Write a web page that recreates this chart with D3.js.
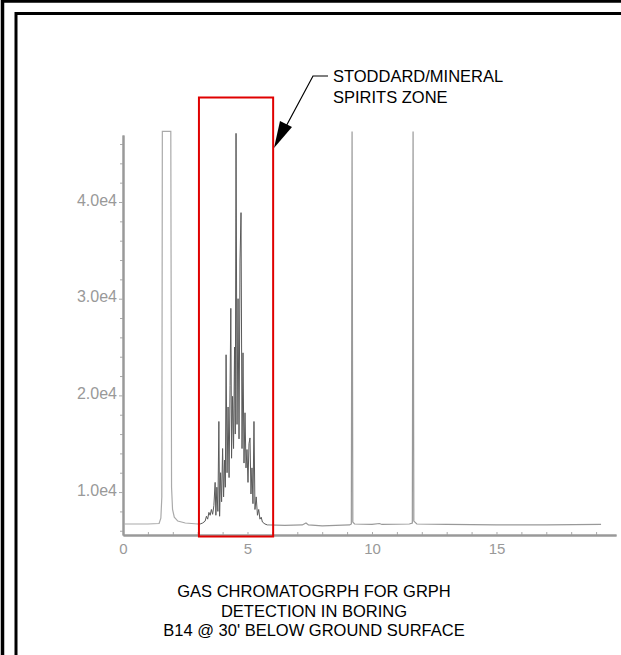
<!DOCTYPE html>
<html>
<script src="https://d3js.org/d3.v7.min.js"></script>
<style>
body {margin:0; background:#fff;}
text {font-family: "Liberation Sans", Arial, sans-serif;}
</style>
<body>
<svg width=621 height=655></svg>
<script>
// retention time (min), detector signal
const earlyTrace = [
    [0.05, 6700], [1.0, 6700], [1.45, 6750], [1.52, 7300], [1.56, 9500],
    [1.58, 47300], [1.92, 47300], [1.95, 10500], [1.99, 8200], [2.06, 7400],
    [2.2, 7000], [2.5, 6800], [3.0, 6700]
];
const stoddardCluster = [
    [3.0, 6700], [3.1, 6700], [3.2, 6800], [3.3, 7000], [3.35, 7500], [3.4, 7200],
    [3.45, 7900], [3.5, 7600], [3.55, 8200], [3.6, 7700], [3.65, 8600], [3.7, 11000],
    [3.73, 7600], [3.77, 10500], [3.81, 8000], [3.85, 17300], [3.88, 7500], [3.92, 12000],
    [3.96, 9000], [4.0, 14500], [4.04, 9500], [4.08, 13300], [4.11, 10500], [4.14, 24200],
    [4.18, 12000], [4.22, 18800], [4.26, 11500], [4.3, 21000], [4.33, 29000], [4.36, 13500],
    [4.4, 19900], [4.44, 14500], [4.48, 25000], [4.51, 16000], [4.54, 47100], [4.58, 17000],
    [4.62, 30000], [4.66, 15500], [4.7, 34000], [4.74, 38900], [4.78, 14500], [4.82, 24400],
    [4.86, 13000], [4.9, 18200], [4.94, 12500], [4.98, 14400], [5.02, 11000], [5.06, 15000],
    [5.1, 15600], [5.14, 9800], [5.18, 12500], [5.22, 8800], [5.26, 17300], [5.3, 8200],
    [5.35, 9500], [5.4, 7600], [5.45, 8200], [5.5, 7200], [5.55, 7400], [5.6, 6900],
    [5.7, 6700], [5.8, 6600]
];
const lateTrace = [
    [5.8, 6600], [6.5, 6550], [7.2, 6600], [7.35, 6800], [7.45, 6600], [8.0, 6500],
    [9.1, 6600], [9.17, 6700], [9.2, 47300], [9.23, 6900], [9.3, 6700], [10.0, 6650],
    [10.3, 6750], [10.4, 6650], [11.5, 6700], [11.62, 6800], [11.65, 47300], [11.68, 7000],
    [11.8, 6700], [13.0, 6650], [15.0, 6600], [17.0, 6600], [19.2, 6650]
];

const xMajorTicks = [0, 5, 10, 15];
const xMinorTicks = [1, 2, 3, 4, 6, 7, 8, 9, 11, 12, 13, 14, 16, 17, 18, 19];
const yMajorTicks = [10000, 20000, 30000, 40000];
const yTickLabels = ["1.0e4", "2.0e4", "3.0e4", "4.0e4"];
const yMinorTicks = [6000, 8000, 12000, 14000, 16000, 18000, 22000, 24000, 26000, 28000,
    32000, 34000, 36000, 38000, 42000, 44000, 46000];
const zoneRange = [3.05, 6.03];
const zoneLabel = ["STODDARD/MINERAL", "SPIRITS ZONE"];
const captionLines = ["GAS CHROMATOGRPH FOR GRPH", "DETECTION IN BORING", "B14 @ 30' BELOW GROUND SURFACE"];

const svg = d3.select("svg");

// drawing sheet frame
svg.append("rect").attr("x", 2.5).attr("y", 1).attr("width", 700).attr("height", 700)
    .attr("fill", "none").attr("stroke", "#000").attr("stroke-width", 3.5);
svg.append("rect").attr("x", 16).attr("y", 13.5).attr("width", 700).attr("height", 700)
    .attr("fill", "none").attr("stroke", "#000").attr("stroke-width", 3);

const x = d3.scaleLinear().domain([0, 19.8]).range([123, 616]);
const y = d3.scaleLinear().domain([5560, 46930]).range([535, 135]);

function styleAxis(g) {
    g.select(".domain").attr("stroke", "#999").attr("stroke-width", 2);
    g.selectAll(".tick line").attr("stroke", "#aaa");
    g.selectAll("text").attr("fill", "#999").attr("font-family", "Liberation Sans, Arial, sans-serif");
}

svg.append("g").attr("transform", "translate(0,535)")
    .call(d3.axisBottom(x).tickValues(xMinorTicks).tickSize(-3).tickSizeOuter(0).tickFormat(""))
    .call(styleAxis);
svg.append("g").attr("transform", "translate(0,535)")
    .call(d3.axisBottom(x).tickValues(xMajorTicks).tickSize(-3).tickSizeOuter(0).tickPadding(8))
    .call(styleAxis)
    .selectAll("text").attr("font-size", 15);

svg.append("g").attr("transform", "translate(123,0)")
    .call(d3.axisLeft(y).tickValues(yMinorTicks).tickSize(3).tickSizeOuter(0).tickFormat(""))
    .call(styleAxis);
svg.append("g").attr("transform", "translate(123,0)")
    .call(d3.axisLeft(y).tickValues(yMajorTicks).tickSize(4).tickSizeOuter(0).tickPadding(2)
        .tickFormat((d, i) => yTickLabels[i]))
    .call(styleAxis)
    .selectAll("text").attr("font-size", 16).attr("dy", "0.2em");

const line = d3.line().x(d => x(d[0])).y(d => y(d[1]));

svg.append("path").datum(earlyTrace).attr("d", line)
    .attr("fill", "none").attr("stroke", "#aaa").attr("stroke-width", 1.2);
svg.append("path").datum(lateTrace).attr("d", line)
    .attr("fill", "none").attr("stroke", "#999").attr("stroke-width", 1.2);
svg.append("path").datum(stoddardCluster).attr("d", line)
    .attr("fill", "none").attr("stroke", "#5a5a5a").attr("stroke-width", 1);

// zone box
svg.append("rect")
    .attr("x", x(zoneRange[0])).attr("y", 97.5)
    .attr("width", x(zoneRange[1]) - x(zoneRange[0])).attr("height", 439)
    .attr("fill", "none").attr("stroke", "#e00000").attr("stroke-width", 2);

// leader with arrow
svg.append("path").attr("d", "M328,76 L313,76 L283,132")
    .attr("fill", "none").attr("stroke", "#000").attr("stroke-width", 1.2);
svg.append("path").attr("d", "M274,148 L280,121 L292,127 Z").attr("fill", "#000");

svg.append("g").selectAll("text").data(zoneLabel).join("text")
    .attr("x", 333).attr("y", (d, i) => 82 + i * 20.5)
    .attr("font-size", 16.5).attr("fill", "#000").text(d => d);

svg.append("g").selectAll("text").data(captionLines).join("text")
    .attr("x", 314).attr("y", (d, i) => 597 + i * 19.5)
    .attr("text-anchor", "middle").attr("font-size", 16.5).attr("fill", "#000").text(d => d);
</script>
</body>
</html>
